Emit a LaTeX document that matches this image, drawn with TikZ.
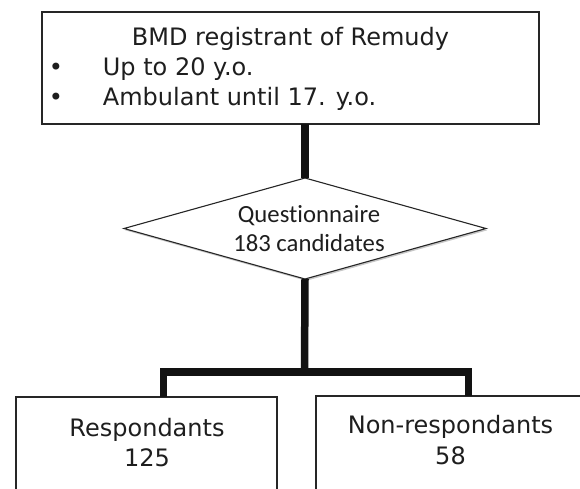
\documentclass[tikz,border=0pt]{standalone}
\usepackage{fontspec}
\setmainfont{DejaVu Sans}
\newfontfamily\calfont[Ligatures={NoCommon}]{Carlito}
\usetikzlibrary{shapes.geometric,shadows}
\definecolor{boxline}{HTML}{262626}
\definecolor{txt}{HTML}{1E1E1E}
\definecolor{connclr}{HTML}{121212}
\tikzset{
  boxstyle/.style={draw=boxline, line width=1.6pt, rectangle, inner sep=0pt, outer sep=0pt, fill=white},
  diastyle/.style={draw=boxline, line width=1.1pt, diamond, inner sep=0pt, outer sep=0pt, fill=white,
    minimum width=362pt, minimum height=101pt,
    drop shadow={shadow xshift=1.2pt, shadow yshift=-1.8pt, opacity=0.22, fill=black}},
  boxtext/.style={font=\fontsize{24}{30}\selectfont, text=txt, inner sep=0pt, anchor=base},
  boxtextw/.style={boxtext, anchor=base west},
  diatext/.style={font=\calfont\fontsize{24.7}{29}\selectfont, text=txt, inner sep=0pt, anchor=base},
  connline/.style={draw=connclr, line width=7.5pt, line join=miter, line cap=butt},
}
\begin{document}
\begin{tikzpicture}[x=1pt,y=-1pt]
\useasboundingbox (0,0) rectangle (580,488);
\clip (0,0) rectangle (580,488);
\fill[white] (0,0) rectangle (580,488);

% top box
\node[boxstyle, minimum width=497pt, minimum height=112pt] (top) at (290.5,68) {};
\node[boxtext] (t1) at (290.5,45) {BMD registrant of Remudy};
\node[boxtext] (b1) at (56,75) {•};
\node[boxtextw] (t2) at (102.7,75) {Up to 20 y.o.};
\node[boxtext] (b2) at (56,105) {•};
\node[boxtextw] (t3) at (102.7,105) {Ambulant until 17. y.o.};

% diamond
\node[diastyle] (dia) at (305,228.5) {};
\node[diatext] (q1) at (309,222.7) {Questionnaire};
\node[diatext] (q2) at (309,251.7) {183 candidates};

% bottom boxes
\node[boxstyle, minimum width=261pt, minimum height=200pt] (resp) at (146.5,496.7) {};
\node[boxtext] (r1) at (147,436) {Respondants};
\node[boxtext] (r2) at (147,466.7) {125};
\node[boxstyle, minimum width=269pt, minimum height=200pt] (nonr) at (450.5,495.7) {};
\node[boxtext] (n1) at (450.5,433.5) {Non-respondants};
\node[boxtext] (n2) at (450.5,464.3) {58};

% connectors
\coordinate (j) at (304.5,372);
\coordinate (lx) at (163.7,372);
\coordinate (rx) at (468.3,372);
\draw[connline] (top.south -| dia.north) -- (dia.north);
\draw[connline] (dia.south) -- (j);
\draw[connline] (resp.north -| lx) -- (lx) -- (rx) -- (nonr.north -| rx);
\end{tikzpicture}
\end{document}
